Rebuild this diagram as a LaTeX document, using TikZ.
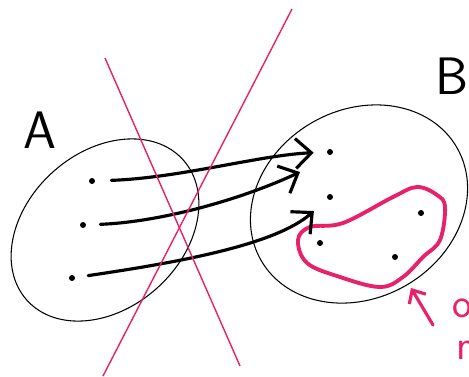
\documentclass[tikz,border=0pt]{standalone}
\usepackage{tikz}
\usetikzlibrary{arrows.meta, calc}
\definecolor{SketchPink}{HTML}{E8226A}
\definecolor{SketchBlack}{HTML}{000000}
\tikzset{
    % Set outlines
    setline/.style={
        draw=SketchBlack,
        line width=0.6pt
    },
    % Elements and labels
    elemdot/.style={
        circle,
        fill=SketchBlack,
        inner sep=0pt,
        minimum size=0.12cm
    },
    setlabel/.style={
        font=\sffamily\fontsize{30}{30}\selectfont,
        text=SketchBlack
    },
    notetext/.style={
        font=\sffamily\fontsize{24}{24}\selectfont,
        text=SketchPink,
        anchor=west
    },
    % Arrow styles
    maparrow/.style={
        -{Straight Barb[length=9pt,width=17pt]},
        line width=1.8pt,
        line cap=round,
        SketchBlack
    },
    notearrow/.style={
        -{Straight Barb[length=6pt,width=11pt]},
        line width=1.8pt,
        line cap=round,
        SketchPink
    },
    % Pink marks
    crossline/.style={
        draw=SketchPink,
        line width=0.8pt
    },
    subsetline/.style={
        draw=SketchPink,
        line width=2.2pt,
        line join=round
    }
}
\begin{document}
\begin{tikzpicture}[x=0.02cm, y=-0.02cm]
    \useasboundingbox (0,0) rectangle (469,376);
    \clip (0,0) rectangle (469,376);

    % Set A
    \node[setlabel] (labA) at (40,130) {A};
    \draw[setline, rotate around={42:(105,230)}]
        (105,230) ellipse [x radius=105, y radius=78];
    \node[elemdot] (a1) at (92,181) {};
    \node[elemdot] (a2) at (83,225) {};
    \node[elemdot] (a3) at (72,278) {};

    % Set B
    \node[setlabel] (labB) at (452,76) {B};
    \draw[setline, rotate around={30:(359,204)}]
        (359,204) ellipse [x radius=113, y radius=94];
    \node[elemdot] (b1) at (330,152) {};
    \node[elemdot] (b2) at (330,197) {};
    \node[elemdot] (b3) at (320,243) {};
    \node[elemdot] (b4) at (421,213) {};
    \node[elemdot] (b5) at (395,257) {};

    % Subset of B
    \draw[subsetline] plot[smooth cycle, tension=0.6] coordinates {
        (393,197) (417,187) (437,195) (445,207) (440,240) (423,257)
        (403,277) (380,287) (340,277) (307,263) (298,240) (310,227)
        (343,223)};

    % Maps from A to B
    \coordinate (t2) at (300,172);
    \draw[maparrow, shorten <=0.32cm, shorten >=0.26cm]
        (a1) .. controls (180,178) and (260,155) .. (b1);
    \draw[maparrow, shorten <=0.28cm]
        (a2) .. controls (160,222) and (240,200) .. (t2);
    \draw[maparrow, shorten <=0.26cm, shorten >=0.36cm]
        (a3) .. controls (180,262) and (275,245) .. (b2);

    % Cross-out
    \coordinate (c1s) at (105,58);
    \coordinate (c1e) at (240,366);
    \coordinate (c2s) at (292,9);
    \coordinate (c2e) at (103,376);
    \draw[crossline] (c1s) -- (c1e);
    \draw[crossline] (c2s) -- (c2e);

    % Note
    \node[notetext] (note1) at (446,303) {of};
    \node[notetext] (note2) at (450,350) {n};
    \coordinate (notetail) at (433,325);
    \coordinate (notetip) at (411,288);
    \draw[notearrow] (notetail) -- (notetip);
\end{tikzpicture}
\end{document}
